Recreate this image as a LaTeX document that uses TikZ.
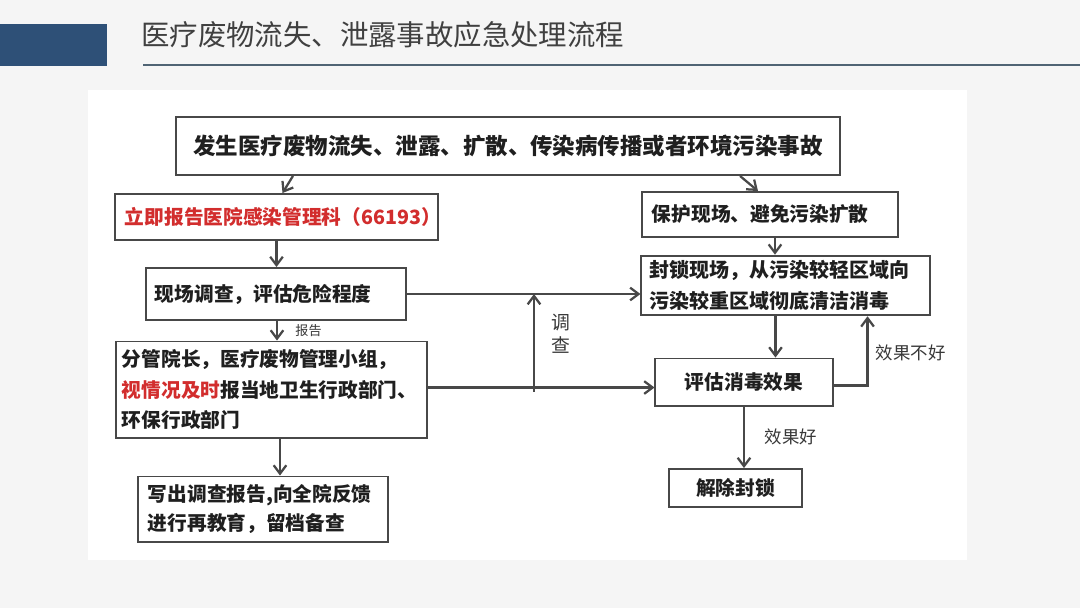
\documentclass[tikz,border=0pt]{standalone}
\usepackage{fontspec}
\setmainfont{Noto Sans CJK SC}
\usepackage{tikz}
\usetikzlibrary{calc, positioning, arrows.meta}
\usepackage{xcolor}
\definecolor{slideBg}{RGB}{245, 245, 245}
\definecolor{titleBar}{RGB}{46, 80, 119}
\definecolor{titleRule}{RGB}{80, 100, 116}
\definecolor{titleText}{RGB}{64, 64, 64}
\definecolor{boxLine}{RGB}{72, 72, 72}
\definecolor{alertRed}{RGB}{210, 45, 45}

\tikzset{
  box/.style={draw=boxLine, line width=1.4pt, fill=white, inner xsep=0.15cm,
    font=\fontsize{14}{21.5}\selectfont\bfseries, text=black!88, align=left},
  flow/.style={draw=boxLine, line width=1.6pt, -{Straight Barb[length=6pt, width=9pt]}},
  tag/.style={font=\fontsize{12.4}{13.5}\selectfont, text=black!78}
}

\begin{document}
\begin{tikzpicture}[x=0.025cm, y=-0.025cm]
  % Slide background and white panel
  \useasboundingbox (0,0) rectangle (1080,608);
  \fill[slideBg] (0,0) rectangle (1080,608);
  \fill[white] (88,90) rectangle (967,560);

  % Title
  \fill[titleBar] (0,24) rectangle (107,66);
  \draw[titleRule, line width=1.6pt] (143,65) -- (1080,65);
  \node[anchor=west, text=titleText, font=\fontsize{20.2}{24}\selectfont, inner sep=0pt]
    (title) at (141,35) {医疗废物流失、泄露事故应急处理流程};

  % Left column
  \node[box, align=center, text width=16.3cm, minimum height=1.45cm] (event) at (508,146)
    {\fontsize{16}{19}\selectfont 发生医疗废物流失、泄露、扩散、传染病传播或者环境污染事故};
  \node[box, text width=7.575cm, minimum height=1.15cm, inner xsep=0.25cm, text=alertRed] (report) at (276.5,217)
    {立即报告医院感染管理科（66193）};
  \node[box, text width=6.05cm, minimum height=1.3cm, inner xsep=0.22cm] (check) at (276,294)
    {现场调查，评估危险程度};
  \node[box, text width=7.475cm, minimum height=2.4cm] (leader) at (271.5,389.5)
    {分管院长，医疗废物管理小组，\\
     {\color{alertRed}视情况及时}报当地卫生行政部门、\\
     环保行政部门};
  \node[box, text width=5.75cm, minimum height=1.625cm, inner xsep=0.25cm,
    font=\fontsize{14}{20.5}\selectfont\bfseries] (feedback) at (263,509)
    {写出调查报告,向全院反馈\\进行再教育，留档备查};

  % Right column
  \node[box, text width=5.9cm, minimum height=1.125cm, inner xsep=0.25cm] (protect) at (770,214.5)
    {保护现场、避免污染扩散};
  \node[box, text width=6.8cm, minimum height=1.475cm, inner xsep=0.2cm,
    font=\fontsize{14.2}{22}\selectfont\bfseries] (seal) at (785.5,285.5)
    {封锁现场，从污染较轻区域向\\污染较重区域彻底清洁消毒};
  \node[box, align=center, text width=4.125cm, minimum height=1.175cm] (assess) at (744,382)
    {评估消毒效果};
  \node[box, align=center, text width=3.025cm, minimum height=0.95cm] (unlock) at (735.5,488)
    {解除封锁};

  % Connectors
  \draw[flow] ([xshift=-5.375cm]event.south) -- ([xshift=0.15cm]report.north);
  \draw[flow] ([xshift=5.8cm]event.south) -- ([xshift=-0.3cm]protect.north);
  \draw[flow] (report.south) -- (report.south |- check.north);
  \draw[flow] ([xshift=0.025cm]check.south) -- ([xshift=0.025cm]check.south |- leader.north)
    node[tag, midway, right=9pt, font=\fontsize{9.3}{10}\selectfont] {报告};
  \draw[flow] ([xshift=0.2125cm]leader.south) -- ([xshift=0.2125cm]leader.south |- feedback.north);
  \draw[flow] (check.east) -- (check.east -| seal.west);
  \draw[flow] ([yshift=0.05cm]leader.east) -- ([yshift=0.05cm]leader.east -| assess.west);
  \coordinate (split) at (534,391.5);
  \draw[flow] (split) -- (split |- check.east);
  \node[tag, align=center, font=\fontsize{13.4}{16.5}\selectfont] (probe) at (561,334) {调\\查};
  \draw[flow] (protect.south -| 775,0) -- (seal.north -| 775,0);
  \draw[flow] ([xshift=-0.25cm]seal.south) -- ([xshift=-0.25cm]seal.south |- assess.north);
  \draw[flow] ([yshift=-0.09cm]assess.east) -| ([xshift=2.05cm]seal.south);
  \node[tag, anchor=west] (badfx) at (871,353) {效果不好};
  \draw[flow] (assess.south) -- (assess.south |- unlock.north);
  \node[tag, anchor=west] (goodfx) at (760,437) {效果好};
\end{tikzpicture}
\end{document}
